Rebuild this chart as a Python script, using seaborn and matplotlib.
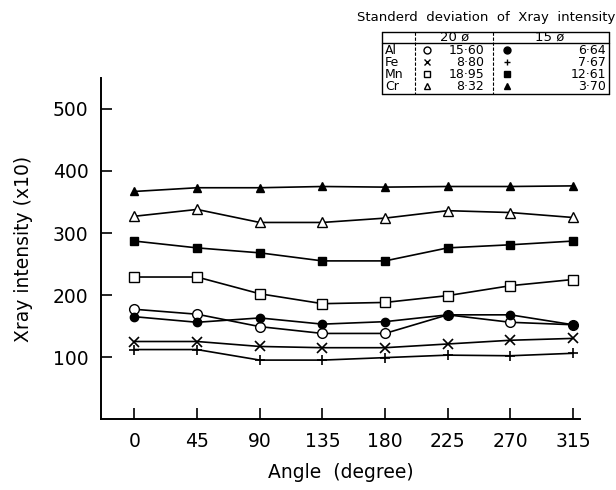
import matplotlib
matplotlib.use("Agg")
import matplotlib.pyplot as plt
import seaborn as sns
from matplotlib.lines import Line2D

sns.set_style("ticks")
plt.rcParams['font.family'] = ['DejaVu Sans']
plt.rcParams['text.color'] = 'black'
plt.rcParams['axes.labelcolor'] = 'black'
plt.rcParams['xtick.color'] = 'black'
plt.rcParams['ytick.color'] = 'black'

angles = [0, 45, 90, 135, 180, 225, 270, 315]
al_20 = [177, 169, 149, 138, 138, 168, 156, 152]
al_15 = [165, 156, 163, 153, 157, 168, 168, 152]
fe_20 = [125, 125, 117, 115, 115, 121, 127, 130]
fe_15 = [112, 112, 95, 95, 99, 103, 102, 106]
mn_20 = [229, 229, 202, 186, 188, 199, 215, 225]
mn_15 = [287, 276, 268, 255, 255, 276, 281, 287]
cr_20 = [327, 338, 317, 317, 324, 336, 333, 325]
cr_15 = [367, 373, 373, 375, 374, 375, 375, 376]

elements = ["Al", "Fe", "Mn", "Cr"]
sd_20 = ["15·60", "8·80", "18·95", "8·32"]
sd_15 = ["6·64", "7·67", "12·61", "3·70"]

W, H = 616, 490
fig = plt.figure(figsize=(W / 100, H / 100), dpi=100)
ax = fig.add_axes([101 / W, 1 - 419 / H, (580 - 101) / W, (419 - 78) / H])

series = [
    (al_20, 'o', 'white', 7, 1.0),
    (al_15, 'o', 'black', 6, 1.0),
    (fe_20, 'x', 'black', 7, 1.2),
    (fe_15, '+', 'black', 7, 1.2),
    (mn_20, 's', 'white', 7, 1.0),
    (mn_15, 's', 'black', 6, 1.0),
    (cr_20, '^', 'white', 7, 1.0),
    (cr_15, '^', 'black', 6, 1.0),
]
for vals, mk, fc, ms, mew in series:
    sns.lineplot(x=angles, y=vals, ax=ax, color='black', linewidth=1.2,
                 marker=mk, markerfacecolor=fc, markeredgecolor='black',
                 markersize=ms, markeredgewidth=mew)

ax.set_xlim(-24, 320)
ax.set_ylim(0, 550)
ax.set_xticks(angles)
ax.set_yticks([100, 200, 300, 400, 500])
ax.tick_params(direction='in', length=8, width=1.2, labelsize=13.5, pad=9, color='black',
               labelcolor='black')
for s in ['top', 'right']:
    ax.spines[s].set_visible(False)
for s in ['left', 'bottom']:
    ax.spines[s].set_linewidth(1.4)
    ax.spines[s].set_color('black')
ax.set_xlabel("Angle  (degree)", fontsize=13.5, labelpad=9, color='black')
ax.set_ylabel("Xray intensity (x10)", fontsize=13.5, labelpad=14, color='black')

def fx(x):
    return x / W

def fy(y):
    return 1 - y / H

# Table legend
fig.text(fx(486), fy(18), "Standerd  deviation  of  Xray  intensity", fontsize=9.5,
         ha='center', va='center', color='black')
L, R, T, B = 382, 609, 32, 94
c1, c2 = 415, 493
hline = 43
kw = dict(transform=fig.transFigure, color='black', linewidth=1.0)
fig.add_artist(Line2D([fx(L), fx(R)], [fy(T), fy(T)], **kw))
fig.add_artist(Line2D([fx(L), fx(R)], [fy(B), fy(B)], **kw))
fig.add_artist(Line2D([fx(L), fx(L)], [fy(T), fy(B)], **kw))
fig.add_artist(Line2D([fx(R), fx(R)], [fy(T), fy(B)], **kw))
fig.add_artist(Line2D([fx(L), fx(R)], [fy(hline), fy(hline)], **kw))
kwd = dict(transform=fig.transFigure, color='black', linewidth=0.8, linestyle=(0, (3, 1.5)))
fig.add_artist(Line2D([fx(c1), fx(c1)], [fy(T), fy(B)], **kwd))
fig.add_artist(Line2D([fx(c2), fx(c2)], [fy(T), fy(B)], **kwd))

fig.text(fx(455), fy(37.5), "20 ø", fontsize=9.5, ha='center', va='center', color='black')
fig.text(fx(550), fy(37.5), "15 ø", fontsize=9.5, ha='center', va='center', color='black')

mk20 = [('o', 'white'), ('x', 'black'), ('s', 'white'), ('^', 'white')]
mk15 = [('o', 'black'), ('+', 'black'), ('s', 'black'), ('^', 'black')]
row_y = [50, 62, 74, 86]
for i, el in enumerate(elements):
    y = row_y[i]
    fig.text(fx(385), fy(y), el, fontsize=9, ha='left', va='center', color='black')
    m, fc = mk20[i]
    fig.add_artist(Line2D([fx(427)], [fy(y)], marker=m, markersize=5, markerfacecolor=fc,
                          markeredgecolor='black', linestyle='none', transform=fig.transFigure))
    fig.text(fx(484), fy(y), sd_20[i], fontsize=9, ha='right', va='center', color='black')
    m, fc = mk15[i]
    fig.add_artist(Line2D([fx(507)], [fy(y)], marker=m, markersize=5, markerfacecolor=fc,
                          markeredgecolor='black', linestyle='none', transform=fig.transFigure))
    fig.text(fx(606), fy(y), sd_15[i], fontsize=9, ha='right', va='center', color='black')

fig.savefig("out.png", dpi=100)
